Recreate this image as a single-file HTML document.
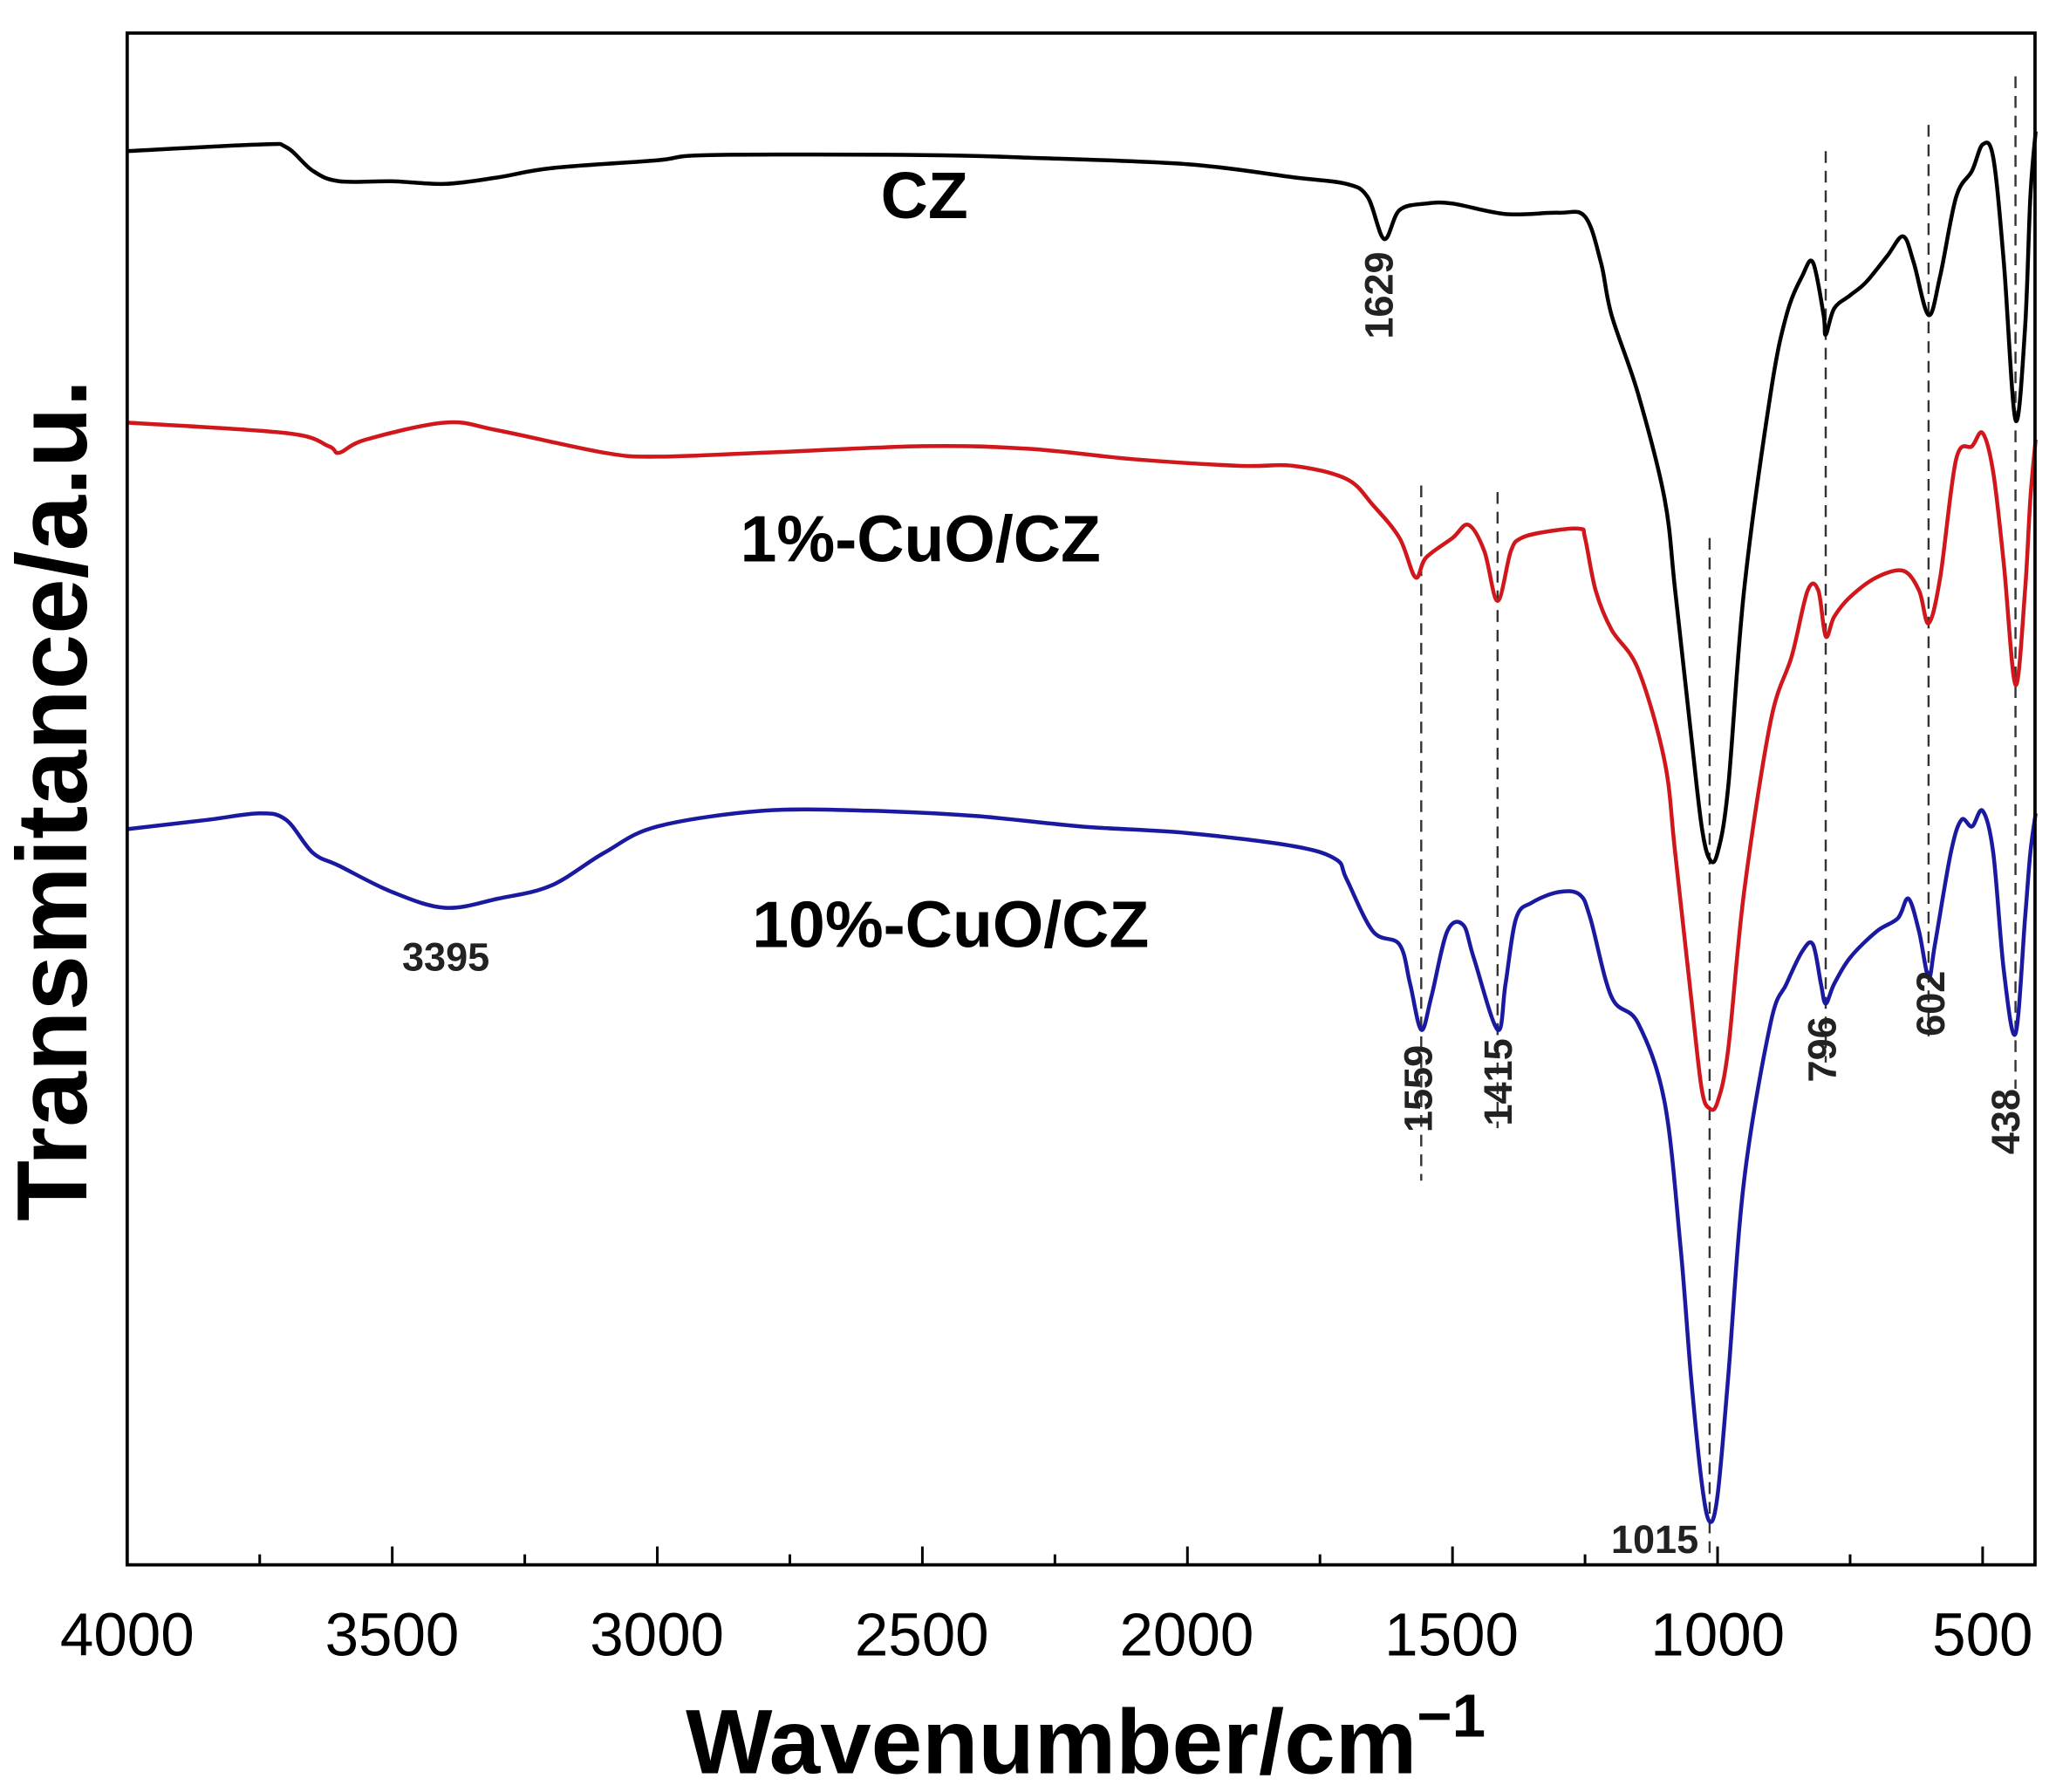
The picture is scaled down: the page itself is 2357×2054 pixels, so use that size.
<!DOCTYPE html>
<html><head><meta charset="utf-8"><style>
html,body{margin:0;padding:0;background:#fff;}
svg{display:block;}
text{font-family:"Liberation Sans",Arial,sans-serif;}
</style></head><body>
<svg id="s" width="2357" height="2054" viewBox="0 0 1568 1366" xmlns="http://www.w3.org/2000/svg">
<rect x="0" y="0" width="1568" height="1366" fill="#fff"/>
<g id="dash" stroke="#333" stroke-width="1.6" stroke-dasharray="9,6" fill="none"></g>
<g id="curves" fill="none" stroke-width="3" stroke-linejoin="round"></g>
<rect x="97" y="25" width="1455" height="1168" fill="none" stroke="#000" stroke-width="2.5"/>
<g id="ticks" stroke="#000" stroke-width="2"></g>
<g font-size="46" text-anchor="middle" fill="#000">
<text x="97" y="1262">4000</text><text x="299" y="1262">3500</text><text x="501" y="1262">3000</text>
<text x="703" y="1262">2500</text><text x="905" y="1262">2000</text><text x="1107" y="1262">1500</text>
<text x="1310" y="1262">1000</text><text x="1512" y="1262">500</text>
</g>
<text x="828" y="1352" font-size="70" font-weight="bold" text-anchor="middle">Wavenumber/cm<tspan dy="-28" font-size="46">−1</tspan></text>
<text transform="translate(66,610) rotate(-90)" font-size="76" font-weight="bold" text-anchor="middle">Transmitance/a.u.</text>
<g font-weight="bold" font-size="50" text-anchor="middle">
<text x="705" y="166">CZ</text>
<text x="702" y="428">1%-CuO/CZ</text>
<text x="725" y="722">10%-CuO/CZ</text>
</g>
<g font-weight="bold" font-size="30" fill="#222" text-anchor="middle">
<text x="340" y="740">3395</text>
<text x="1262" y="1184">1015</text>
<text transform="translate(1062,225) rotate(-90)">1629</text>
<text transform="translate(1092,830) rotate(-90)">1559</text>
<text transform="translate(1153,825) rotate(-90)">1415</text>
<text transform="translate(1400,800) rotate(-90)">796</text>
<text transform="translate(1483,765) rotate(-90)">602</text>
<text transform="translate(1540,855) rotate(-90)">438</text>
</g>
</svg>
<script>
var NS="http://www.w3.org/2000/svg";
function X(w){return 97+(4000-w)*0.4043;}
function el(p,t,a){var e=document.createElementNS(NS,t);for(var k in a)e.setAttribute(k,a[k]);p.appendChild(e);return e;}
function path(pts){var P=pts.map(function(p){return [X(p[0]),p[1]];});var d="M"+P[0][0]+","+P[0][1];
for(var i=0;i<P.length-1;i++){var p0=P[i-1]||P[i],p1=P[i],p2=P[i+1],p3=P[i+2]||P[i+1];
var c1x=p1[0]+(p2[0]-p0[0])/6,c1y=p1[1]+(p2[1]-p0[1])/6,c2x=p2[0]-(p3[0]-p1[0])/6,c2y=p2[1]-(p3[1]-p1[1])/6;
d+=" C"+c1x+","+c1y+" "+c2x+","+c2y+" "+p2[0]+","+p2[1];}return d;}
var black=[[4000,115],[3750,110],[3700,112],[3650,130],[3600,138],[3500,138],[3400,140],[3300,135],[3200,128],[3000,122],[2900,118],[2500,118],[2300,120],[2000,125],[1800,135],[1700,140],[1660,150],[1629,182],[1600,160],[1550,155],[1500,155],[1400,163],[1300,162],[1250,165],[1220,200],[1200,240],[1150,300],[1100,380],[1080,450],[1050,560],[1030,630],[1015,655],[1000,650],[980,600],[950,450],[900,300],[870,240],[840,210],[820,200],[800,240],[796,255],[780,235],[750,225],[720,215],[680,195],[650,180],[630,200],[602,240],[580,210],[550,150],[520,130],[500,110],[480,120],[460,200],[438,320],[420,250],[410,150],[400,100]];
var red=[[4000,322],[3700,330],[3620,340],[3600,345],[3550,335],[3400,322],[3300,328],[3100,345],[3000,348],[2800,345],[2500,340],[2300,342],[2100,350],[1900,355],[1800,355],[1700,365],[1650,385],[1600,410],[1570,440],[1550,425],[1500,410],[1470,400],[1440,420],[1415,458],[1390,420],[1370,410],[1320,405],[1260,403],[1250,410],[1230,450],[1200,480],[1150,510],[1100,580],[1080,650],[1050,760],[1030,830],[1015,845],[1000,840],[980,800],[950,680],[900,550],[860,500],[830,450],[810,450],[796,485],[780,470],[750,455],[700,440],[650,435],[620,450],[602,475],[580,440],[550,350],[520,340],[500,330],[480,360],[460,430],[438,522],[420,450],[410,380],[400,335]];
var blue=[[4000,632],[3850,625],[3750,620],[3700,625],[3650,650],[3600,660],[3500,680],[3400,692],[3300,685],[3200,675],[3100,650],[3000,630],[2800,618],[2600,618],[2400,622],[2200,630],[2000,635],[1800,645],[1720,655],[1700,670],[1650,710],[1600,720],[1580,750],[1559,785],[1540,760],[1510,710],[1480,705],[1460,730],[1415,785],[1400,750],[1380,700],[1350,688],[1300,680],[1260,682],[1240,700],[1200,760],[1150,780],[1100,840],[1070,950],[1050,1050],[1030,1130],[1015,1160],[1000,1140],[980,1050],[950,900],[900,780],[870,750],[840,725],[820,720],[805,750],[796,765],[780,750],[750,730],[700,710],[660,700],[640,685],[620,710],[602,745],[590,720],[560,650],[540,625],[520,630],[500,618],[480,650],[460,740],[438,788],[420,700],[410,650],[400,620]];
var c=document.getElementById("curves");
el(c,"path",{d:path(black),stroke:"#000"});
el(c,"path",{d:path(red),stroke:"#d0171b"});
el(c,"path",{d:path(blue),stroke:"#1a1aa0"});
var dg=document.getElementById("dash");
[[1559,370,900],[1415,375,860],[1015,410,1185],[796,115,810],[602,95,790],[438,58,830]].forEach(function(d){el(dg,"line",{x1:X(d[0]),x2:X(d[0]),y1:d[1],y2:d[2]});});
var t=document.getElementById("ticks");
for(var w=4000;w>=400;w-=250){var maj=(w%500==0);el(t,"line",{x1:X(w),x2:X(w),y1:1193,y2:1193-(maj?14:8)});}
</script>
</body></html>
